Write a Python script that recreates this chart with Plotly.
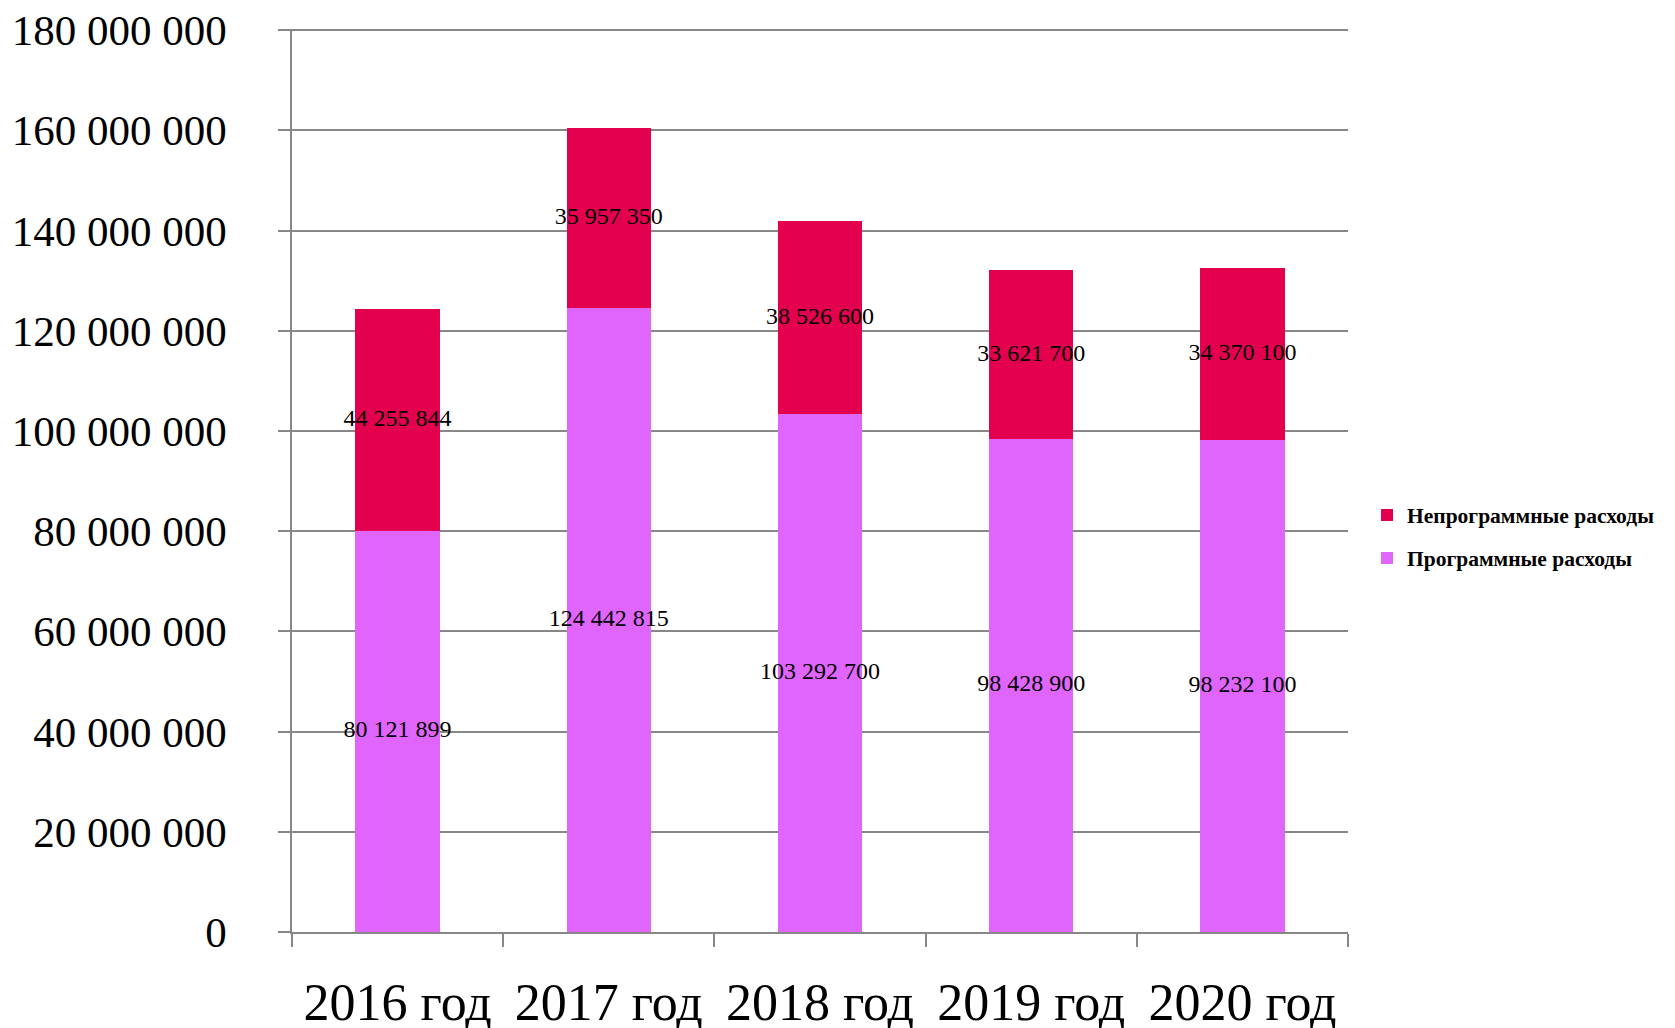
import plotly.graph_objects as go

categories = ["2016 год", "2017 год", "2018 год", "2019 год", "2020 год"]
program = [80121899, 124442815, 103292700, 98428900, 98232100]
nonprogram = [44255844, 35957350, 38526600, 33621700, 34370100]
series_names = ["Программные расходы", "Непрограммные расходы"]
tick_vals = [0, 20000000, 40000000, 60000000, 80000000, 100000000,
             120000000, 140000000, 160000000, 180000000]

PROG_COLOR = "#E065FD"
NONPROG_COLOR = "#E3004F"
GRID = "#878787"


def fmt(v):
    return f"{v:,}".replace(",", " ")


fig = go.Figure()
fig.add_trace(go.Bar(x=categories, y=program, name=series_names[0],
                     legendgroup="p", legendrank=2,
                     marker=dict(color=PROG_COLOR, line=dict(width=0)),
                     hoverinfo="skip"))
fig.add_trace(go.Bar(x=categories, y=nonprogram, name=series_names[1],
                     legendgroup="n", legendrank=1,
                     marker=dict(color=NONPROG_COLOR, line=dict(width=0)),
                     hoverinfo="skip"))

# data labels centered in each segment
mid_prog = [p / 2 for p in program]
mid_non = [p + n / 2 for p, n in zip(program, nonprogram)]
fig.add_trace(go.Scatter(x=categories + categories, y=mid_prog + mid_non,
                         mode="text",
                         text=[fmt(v) for v in program] + [fmt(v) for v in nonprogram],
                         textfont=dict(family="Liberation Serif", size=24, color="#000000"),
                         showlegend=False, hoverinfo="skip"))

fig.update_layout(
    width=1675, height=1028,
    margin=dict(l=284, r=335, t=21, b=104, autoexpand=False),
    barmode="stack", bargap=0.6,
    plot_bgcolor="white", paper_bgcolor="white",
    font=dict(family="Liberation Serif", color="#000000"),
    legend=dict(x=1.018, y=0.438, xanchor="left", yanchor="middle",
                traceorder="grouped", tracegroupgap=12,
                font=dict(family="Liberation Serif", size=21.5, color="#000000",
                          weight="bold"),
                itemwidth=30),
    showlegend=True,
)
fig.update_yaxes(range=[0, 180000000 * 1.0012], tickvals=tick_vals,
                 ticktext=[fmt(v) for v in tick_vals],
                 automargin=False, ticklabeloverflow="allow",
                 showgrid=True, gridcolor=GRID, gridwidth=1.5,
                 showline=True, linecolor=GRID, linewidth=1.5,
                 ticks="outside", ticklen=12, tickcolor=GRID, tickwidth=1.5,
                 ticklabelstandoff=43,
                 tickfont=dict(family="Liberation Serif", size=43, color="#000000"),
                 zeroline=False)
fig.update_xaxes(automargin=False, ticklabeloverflow="allow",
                 showline=True, linecolor=GRID, linewidth=1.5,
                 ticks="outside", ticklen=13, tickcolor=GRID, tickwidth=1.5,
                 tickson="boundaries", showgrid=False,
                 ticklabelstandoff=24,
                 tickfont=dict(family="Liberation Serif", size=52, color="#000000"))

fig.write_html("out.html")
